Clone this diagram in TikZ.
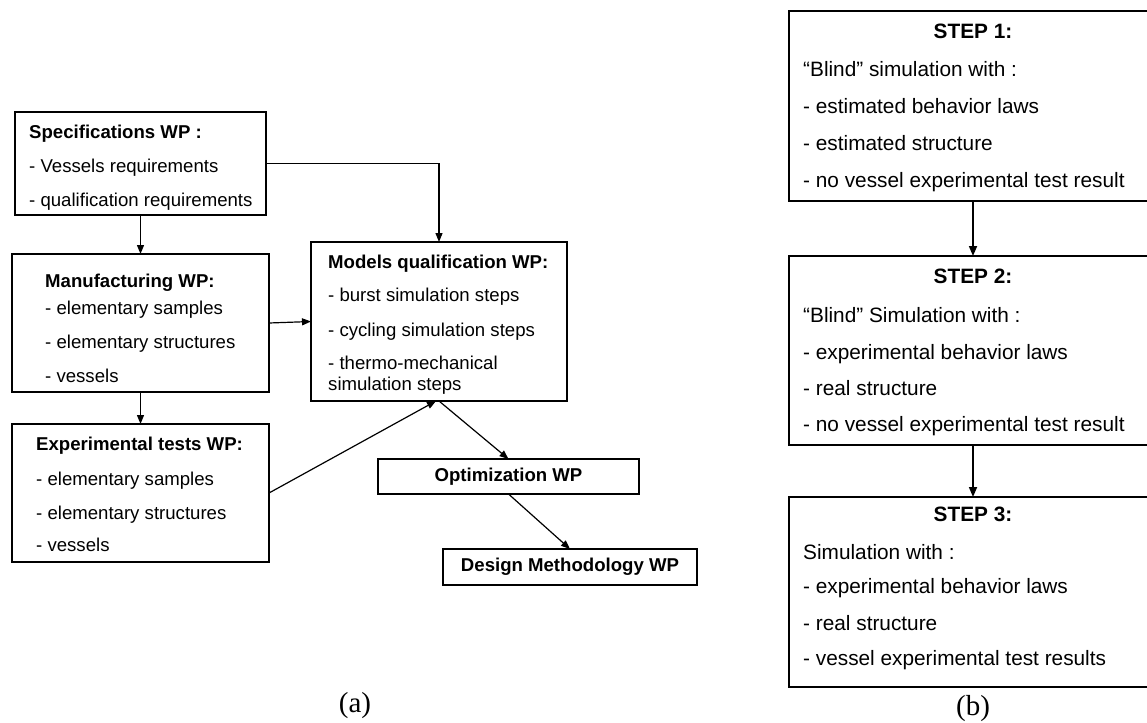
\documentclass[tikz,border=0pt]{standalone}
\usepackage{fontspec}
\setmainfont{Liberation Sans}
\newfontfamily\capfont{Liberation Serif}
\usetikzlibrary{arrows.meta}
\begin{document}
\begin{tikzpicture}[x=1pt,y=-1pt,
  box/.style={draw, line width=1.2pt, inner sep=0pt, outer sep=0pt, anchor=north west},
  cbox/.style={draw, line width=1.2pt, inner sep=0pt, outer sep=0pt, anchor=north west, font=\fontsize{18.6}{22}\selectfont\bfseries},
  txt/.style={anchor=base west, inner sep=0pt, font=\fontsize{18.6}{22}\selectfont},
  ttl/.style={anchor=base west, inner sep=0pt, font=\fontsize{18.6}{22}\selectfont\bfseries},
  rtxt/.style={anchor=base west, inner sep=0pt, font=\fontsize{20.8}{24}\selectfont},
  rttl/.style={anchor=base, inner sep=0pt, font=\fontsize{20.8}{24}\selectfont\bfseries},
  conn/.style={line width=1.2pt, -{Triangle[length=9pt,width=7pt]}},
  rconn/.style={line width=1.7pt, -{Triangle[length=10pt,width=8pt]}},
  captext/.style={anchor=base, inner sep=0pt, font=\fontsize{29}{32}\capfont}]
\clip (0,0) rectangle (1147,722);
% ---------- (a) ----------
\node[box, minimum width=251pt, minimum height=103pt] (spec) at (15,112) {};
\node[ttl] (spec-t) at (29,139) {Specifications WP :};
\node[txt] (spec-1) at (29,172) {- Vessels requirements};
\node[txt] (spec-2) at (29,206) {- qualification requirements};

\node[box, minimum width=257pt, minimum height=138pt] (manu) at (12,254) {};
\node[ttl] (manu-t) at (45,287) {Manufacturing WP:};
\node[txt] (manu-1) at (45,314) {- elementary samples};
\node[txt] (manu-2) at (45,348) {- elementary structures};
\node[txt] (manu-3) at (45,382) {- vessels};

\node[box, minimum width=257pt, minimum height=138pt] (exp) at (12,424) {};
\node[ttl] (exp-t) at (36,450) {Experimental tests WP:};
\node[txt] (exp-1) at (36,485) {- elementary samples};
\node[txt] (exp-2) at (36,519) {- elementary structures};
\node[txt] (exp-3) at (36,551) {- vessels};

\node[box, minimum width=256pt, minimum height=159pt] (mod) at (311,242) {};
\node[ttl] (mod-t) at (328,268) {Models qualification WP:};
\node[txt] (mod-1) at (328,301) {- burst simulation steps};
\node[txt] (mod-2) at (328,336) {- cycling simulation steps};
\node[txt] (mod-3) at (328,369) {- thermo-mechanical};
\node[txt] (mod-4) at (328,390) {simulation steps};

\node[cbox, minimum width=261pt, minimum height=35pt] (opt) at (378,459) {Optimization WP};
\node[cbox, minimum width=254pt, minimum height=36pt] (des) at (443,549) {Design Methodology WP};

\draw[conn] (spec.south) -- (manu.north);
\draw[conn] (manu.south) -- (exp.north);
\draw[conn] (spec.east) -| (mod.north);
\draw[conn] (manu.east) -- (mod.west);
\draw[conn] (exp.east) -- ([xshift=-3pt]mod.south);
\draw[conn] (mod.south) -- (opt.north);
\draw[conn] (opt.south) -- (des.north);

\node[captext] (capa) at (355,712) {(a)};

% ---------- (b) ----------
\node[box, minimum width=368pt, minimum height=190pt] (s1) at (789,11) {};
\node[rttl] (s1-t) at (973,39) {STEP 1:};
\node[rtxt] (s1-1) at (803,77) {“Blind” simulation with :};
\node[rtxt] (s1-2) at (803,114) {- estimated behavior laws};
\node[rtxt] (s1-3) at (803,151) {- estimated structure};
\node[rtxt] (s1-4) at (803,187) {- no vessel experimental test result};

\node[box, minimum width=368pt, minimum height=189pt] (s2) at (789,256) {};
\node[rttl] (s2-t) at (973,283) {STEP 2:};
\node[rtxt] (s2-1) at (803,322) {“Blind” Simulation with :};
\node[rtxt] (s2-2) at (803,359) {- experimental behavior laws};
\node[rtxt] (s2-3) at (803,395) {- real structure};
\node[rtxt] (s2-4) at (803,431) {- no vessel experimental test result};

\node[box, minimum width=368pt, minimum height=190pt] (s3) at (789,497) {};
\node[rttl] (s3-t) at (973,521) {STEP 3:};
\node[rtxt] (s3-1) at (803,559) {Simulation with :};
\node[rtxt] (s3-2) at (803,593) {- experimental behavior laws};
\node[rtxt] (s3-3) at (803,630) {- real structure};
\node[rtxt] (s3-4) at (803,665) {- vessel experimental test results};

\draw[rconn] (s1.south) -- (s2.north);
\draw[rconn] (s2.south) -- (s3.north);

\node[captext] (capb) at (973,715) {(b)};
\end{tikzpicture}
\end{document}
